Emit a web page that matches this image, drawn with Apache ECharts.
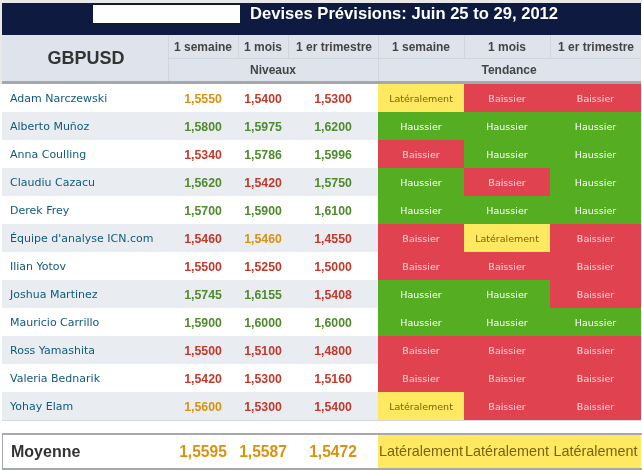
<!DOCTYPE html>
<html>
<head>
<meta charset="UTF-8">
<title>Devises Prévisions GBPUSD</title>
<script src="https://cdn.jsdelivr.net/npm/echarts@6/dist/echarts.min.js"></script>
<style>
html,body{margin:0;padding:0;background:#fff;}
</style>
</head>
<body>
<div id="main" style="width:642px;height:470px;"></div>
<script type="text/javascript">
var title = 'Devises Prévisions: Juin 25 to 29, 2012';
var pair = 'GBPUSD';
var periods = ['1 semaine', '1 mois', '1 er trimestre'];
var analysts = ['Adam Narczewski', 'Alberto Muñoz', 'Anna Coulling', 'Claudiu Cazacu', 'Derek Frey', "Équipe d'analyse ICN.com", 'Ilian Yotov', 'Joshua Martinez', 'Mauricio Carrillo', 'Ross Yamashita', 'Valeria Bednarik', 'Yohay Elam'];
var levelWeek = ['1,5550', '1,5800', '1,5340', '1,5620', '1,5700', '1,5460', '1,5500', '1,5745', '1,5900', '1,5500', '1,5420', '1,5600'];
var levelMonth = ['1,5400', '1,5975', '1,5786', '1,5420', '1,5900', '1,5460', '1,5250', '1,6155', '1,6000', '1,5100', '1,5300', '1,5300'];
var levelQuarter = ['1,5300', '1,6200', '1,5996', '1,5750', '1,6100', '1,4550', '1,5000', '1,5408', '1,6000', '1,4800', '1,5160', '1,5400'];
var trendWeek = ['L', 'H', 'B', 'H', 'H', 'B', 'B', 'H', 'H', 'B', 'B', 'L'];
var trendMonth = ['B', 'H', 'H', 'B', 'H', 'L', 'B', 'H', 'H', 'B', 'B', 'B'];
var trendQuarter = ['B', 'H', 'H', 'H', 'H', 'B', 'B', 'B', 'H', 'B', 'B', 'B'];
var averageLabel = 'Moyenne';
var averageLevels = ['1,5595', '1,5587', '1,5472'];
var averageTrends = ['L', 'L', 'L'];

var trendNames = {L: 'Latéralement', H: 'Haussier', B: 'Baissier'};
var trendFill = {L: '#ffe960', H: '#55ae21', B: '#e04250'};
var trendText = {L: '#7d5f0a', H: '#ffffff', B: '#fbdada'};
var levelText = {L: '#d9920f', H: '#4f8a2c', B: '#c0392b'};

// bords des colonnes
var levelCenters = [203, 263, 333];
var trendEdges = [378, 464, 550, 641];
var FONT = '"DejaVu Sans"';
var ARIAL = '"Liberation Sans"';

function cellsFor(levels, col) {
    return levels.map(function (v, i) { return [col, i]; });
}
var levelArrays = [levelWeek, levelMonth, levelQuarter];
var trendArrays = [trendWeek, trendMonth, trendQuarter];
var levelData = [], trendData = [];
for (var c = 0; c < 3; c++) {
    levelData = levelData.concat(cellsFor(levelArrays[c], c));
    trendData = trendData.concat(cellsFor(trendArrays[c], c));
}

function renderLevel(params, api) {
    var col = api.value(0), row = api.value(1);
    var p = api.coord([levelCenters[col], row]);
    return {
        type: 'text',
        style: {
            x: p[0], y: p[1] + 1.5, text: levelArrays[col][row],
            align: 'center', verticalAlign: 'middle',
            font: 'bold 12.3px ' + ARIAL, fill: levelText[trendArrays[col][row]]
        }
    };
}

function renderTrend(params, api) {
    var col = api.value(0), row = api.value(1);
    var a = api.coord([trendEdges[col], row]);
    var b = api.coord([trendEdges[col + 1], row]);
    var h = api.size([0, 1])[1];
    var t = trendArrays[col][row];
    return {
        type: 'group',
        children: [{
            type: 'rect',
            shape: {x: a[0], y: a[1] - h / 2, width: b[0] - a[0], height: h},
            style: {fill: trendFill[t]}
        }, {
            type: 'text',
            style: {
                x: (a[0] + b[0]) / 2, y: a[1] + 1.5, text: trendNames[t],
                align: 'center', verticalAlign: 'middle',
                font: '9.5px ' + FONT, fill: trendText[t]
            }
        }]
    };
}

function renderAvgLevel(params, api) {
    var col = api.value(0);
    var p = api.coord([levelCenters[col], 0]);
    return {
        type: 'text',
        style: {
            x: p[0], y: p[1] + 1, text: averageLevels[col],
            align: 'center', verticalAlign: 'middle',
            font: 'bold 15.6px ' + ARIAL, fill: levelText[averageTrends[col]]
        }
    };
}

function renderAvgTrend(params, api) {
    var col = api.value(0);
    var a = api.coord([trendEdges[col], 0]);
    var b = api.coord([trendEdges[col + 1], 0]);
    var h = api.size([0, 1])[1];
    var t = averageTrends[col];
    return {
        type: 'group',
        children: [{
            type: 'rect',
            shape: {x: a[0], y: a[1] - h / 2, width: b[0] - a[0], height: h},
            style: {fill: trendFill[t]}
        }, {
            type: 'text',
            style: {
                x: (a[0] + b[0]) / 2, y: a[1] + 1, text: trendNames[t],
                align: 'center', verticalAlign: 'middle',
                font: '14.4px ' + ARIAL, fill: trendText[t]
            }
        }]
    };
}

// en-tête
var HEAD = '#dfe4ec', LINE = '#d0d5de', BAND = '#a5a9ad';
function box(x, y, w, h, fill, z) {
    return {type: 'rect', shape: {x: x, y: y, width: w, height: h}, style: {fill: fill}, z: z || 1};
}
function label(x, y, text, font, fill, align) {
    return {type: 'text', style: {x: x, y: y, text: text, font: font, fill: fill, align: align || 'center', verticalAlign: 'middle'}, z: 2};
}
var header = [
    box(0, 0, 642, 3, '#e8e8e8'),
    box(0, 0, 2, 84, '#e8e8e8'),
    box(2, 3, 639, 32, '#0e1a40'),
    box(93, 5, 147, 18, '#ffffff'),
    label(250, 14, title, 'bold 16.6px ' + ARIAL, '#ffffff', 'left'),
    box(2, 35, 639, 46, HEAD),
    box(2, 81, 639, 3, BAND),
    box(168, 58, 473, 1, LINE),
    box(168, 35, 1, 46, LINE),
    box(378, 35, 1, 46, LINE),
    box(238, 35, 1, 23, LINE),
    box(288, 35, 1, 23, LINE),
    box(464, 35, 1, 23, LINE),
    box(550, 35, 1, 23, LINE),
    label(86, 59, pair, 'bold 18px ' + ARIAL, '#333333'),
    label(203, 48, periods[0], 'bold 12px ' + ARIAL, '#444444'),
    label(263, 48, periods[1], 'bold 12px ' + ARIAL, '#444444'),
    label(334, 48, periods[2], 'bold 12px ' + ARIAL, '#444444'),
    label(421, 48, periods[0], 'bold 12px ' + ARIAL, '#444444'),
    label(507, 48, periods[1], 'bold 12px ' + ARIAL, '#444444'),
    label(596, 48, periods[2], 'bold 12px ' + ARIAL, '#444444'),
    label(273, 71, 'Niveaux', 'bold 12px ' + ARIAL, '#444444'),
    label(509, 71, 'Tendance', 'bold 12px ' + ARIAL, '#444444'),
    box(2, 420, 639, 1, '#d5d8dc'),
    // cadre de la moyenne
    box(2, 433, 640, 2, BAND, 20),
    box(2, 468, 640, 2, BAND, 20),
    box(2, 433, 1, 37, BAND, 20)
];

var myChart = echarts.init(document.getElementById('main'), null, {renderer: 'canvas'});
var option = {
    animation: false,
    backgroundColor: '#ffffff',
    graphic: {elements: header},
    grid: [
        {left: 2, right: 1, top: 84, height: 336},
        {left: 2, right: 1, top: 434, height: 35}
    ],
    xAxis: [
        {type: 'value', gridIndex: 0, min: 2, max: 641, show: false},
        {type: 'value', gridIndex: 1, min: 2, max: 641, show: false}
    ],
    yAxis: [{
        type: 'category', gridIndex: 0, inverse: true, data: analysts,
        axisLine: {show: false}, axisTick: {show: false},
        axisLabel: {
            inside: true, interval: 0, margin: 8,
            formatter: '{n|{value}}',
            rich: {n: {fontFamily: FONT, fontSize: 11, color: '#0f5a7a', padding: [3, 0, 0, 0]}}
        },
        splitLine: {show: false},
        splitArea: {show: true, interval: 0, areaStyle: {color: ['#ffffff', '#e9edf2']}}
    }, {
        type: 'category', gridIndex: 1, data: [averageLabel],
        axisLine: {show: false}, axisTick: {show: false},
        axisLabel: {
            inside: true, margin: 9,
            formatter: '{n|{value}}',
            rich: {n: {fontFamily: ARIAL, fontWeight: 'bold', fontSize: 16, color: '#333333', padding: [2, 0, 0, 0]}}
        },
        splitLine: {show: false}
    }],
    series: [
        {type: 'custom', xAxisIndex: 0, yAxisIndex: 0, coordinateSystem: 'cartesian2d', data: levelData, renderItem: renderLevel, silent: true},
        {type: 'custom', xAxisIndex: 0, yAxisIndex: 0, coordinateSystem: 'cartesian2d', data: trendData, renderItem: renderTrend, silent: true},
        {type: 'custom', xAxisIndex: 1, yAxisIndex: 1, coordinateSystem: 'cartesian2d', data: [[0, 0], [1, 0], [2, 0]], renderItem: renderAvgLevel, silent: true},
        {type: 'custom', xAxisIndex: 1, yAxisIndex: 1, coordinateSystem: 'cartesian2d', data: [[0, 0], [1, 0], [2, 0]], renderItem: renderAvgTrend, silent: true}
    ]
};
myChart.setOption(option);
</script>
</body>
</html>
